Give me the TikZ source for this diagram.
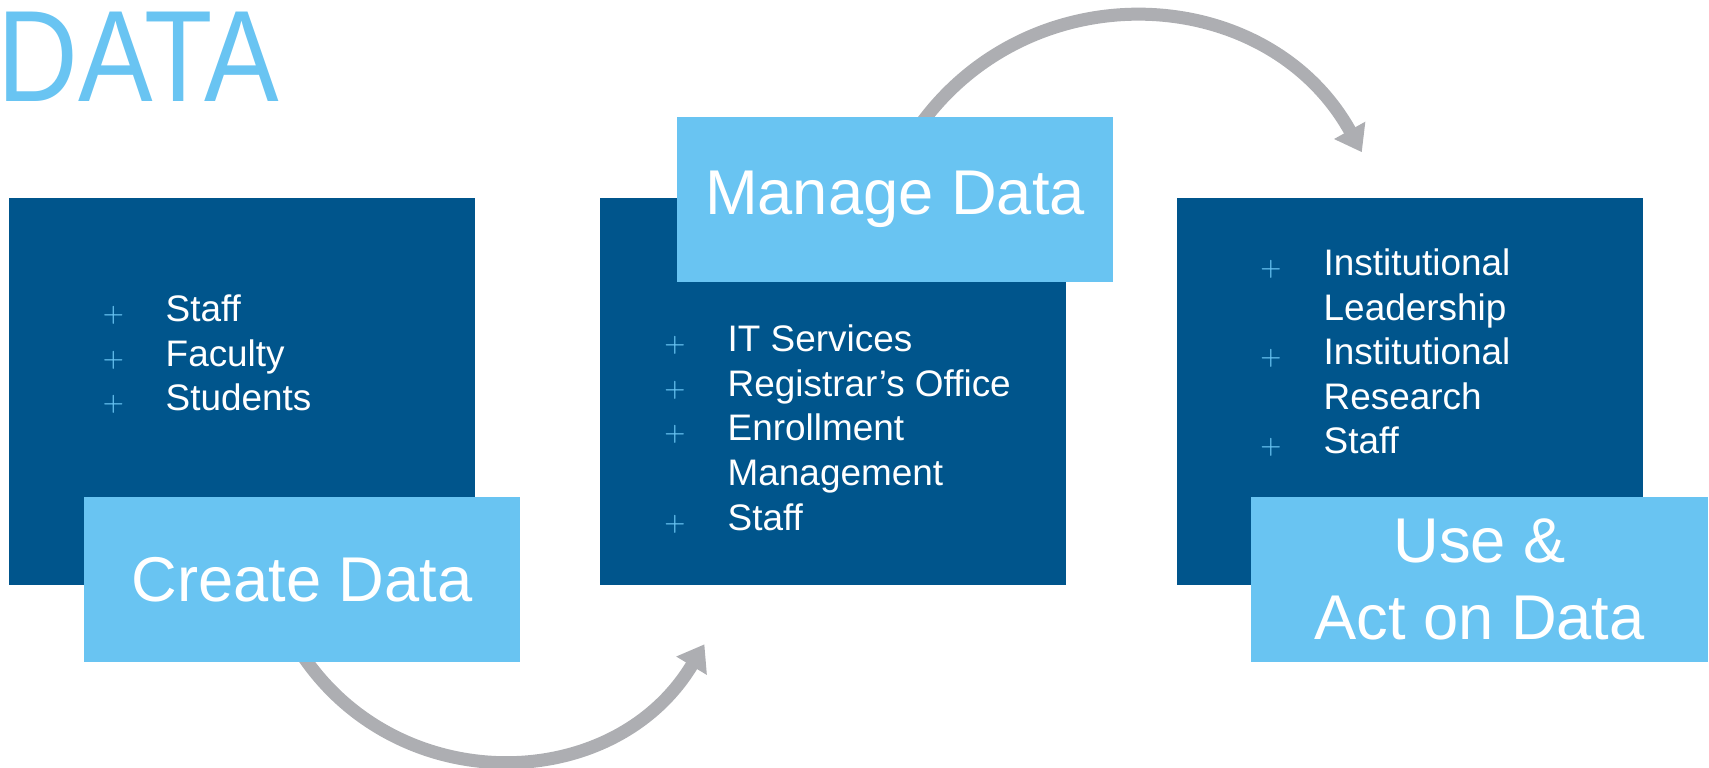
\documentclass[tikz,border=0pt]{standalone}
\usepackage{fontspec}
\setmainfont{Liberation Sans}
\usetikzlibrary{arrows.meta}
\definecolor{darkblue}{RGB}{0,85,140}
\definecolor{lightblue}{RGB}{105,196,242}
\definecolor{arrowgray}{RGB}{173,174,178}
\tikzset{
  darkbox/.style={fill=darkblue, minimum width=4.66cm, minimum height=3.87cm, inner sep=0},
  lightbox/.style={fill=lightblue, text=white, minimum width=4.36cm, minimum height=1.65cm,
    inner sep=0, align=center, font=\fontsize{18}{22}\selectfont},
  item/.style={anchor=base west, text=white, inner sep=0, font=\fontsize{10.5}{12.7}\selectfont},
  bullet/.style={anchor=base, text=lightblue, inner sep=0, font=\fontsize{7.5}{9}\selectfont},
  flow/.style={draw=arrowgray, line width=0.13cm, -{Triangle[width=0.34cm,length=0.25cm]}, looseness=1.12}
}
\begin{document}
\begin{tikzpicture}
\useasboundingbox (0,0) rectangle (17.09,7.67);
%
% extremos de las flechas
\coordinate (a1) at (2.977,1.191);
\coordinate (a2) at (7.044,1.227);
\coordinate (b1) at (9.174,6.381);
\coordinate (b2) at (13.618,6.148);
\draw[flow] (a1) to[out=-58, in=-121] (a2);
\draw[flow] (b1) to[out=55, in=119] (b2);
%
% titulo
\node[anchor=base west, inner sep=0, text=lightblue, font=\fontsize{37}{37}\selectfont] (title) at (-0.03,6.66) {\scalebox{0.86}[1]{DATA}};
%
% cajas
\node[darkbox] (box1) at (2.42,3.755) {};
\node[darkbox] (box2) at (8.33,3.755) {};
\node[darkbox] (box3) at (14.095,3.755) {};
\node[lightbox] (create) at (3.02,1.875) {Create Data};
\node[lightbox] (manage) at (8.95,5.68) {Manage Data};
\node[lightbox, minimum width=4.57cm] (use) at (14.795,1.875) {Use \&\\Act on Data};
%
% lista 1
\node[bullet] (p11) at (1.133,4.453) {$+$};
\node[bullet] (p12) at (1.133,4.008) {$+$};
\node[bullet] (p13) at (1.133,3.563) {$+$};
\node[item] (t11) at (1.65,4.453) {Staff};
\node[item] (t12) at (1.65,4.008) {Faculty};
\node[item] (t13) at (1.65,3.563) {Students};
%
% lista 2
\node[bullet] (p21) at (6.75,4.153) {$+$};
\node[bullet] (p22) at (6.75,3.707) {$+$};
\node[bullet] (p23) at (6.75,3.261) {$+$};
\node[bullet] (p24) at (6.75,2.369) {$+$};
\node[item] (t21) at (7.27,4.153) {IT Services};
\node[item] (t22) at (7.27,3.707) {Registrar’s Office};
\node[item] (t23) at (7.27,3.261) {Enrollment};
\node[item] (t23b) at (7.27,2.815) {Management};
\node[item] (t24) at (7.27,2.369) {Staff};
%
% lista 3
\node[bullet] (p31) at (12.71,4.916) {$+$};
\node[bullet] (p32) at (12.71,4.024) {$+$};
\node[bullet] (p33) at (12.71,3.132) {$+$};
\node[item] (t31) at (13.23,4.916) {Institutional};
\node[item] (t31b) at (13.23,4.470) {Leadership};
\node[item] (t32) at (13.23,4.024) {Institutional};
\node[item] (t32b) at (13.23,3.578) {Research};
\node[item] (t33) at (13.23,3.132) {Staff};
%
\end{tikzpicture}
\end{document}
